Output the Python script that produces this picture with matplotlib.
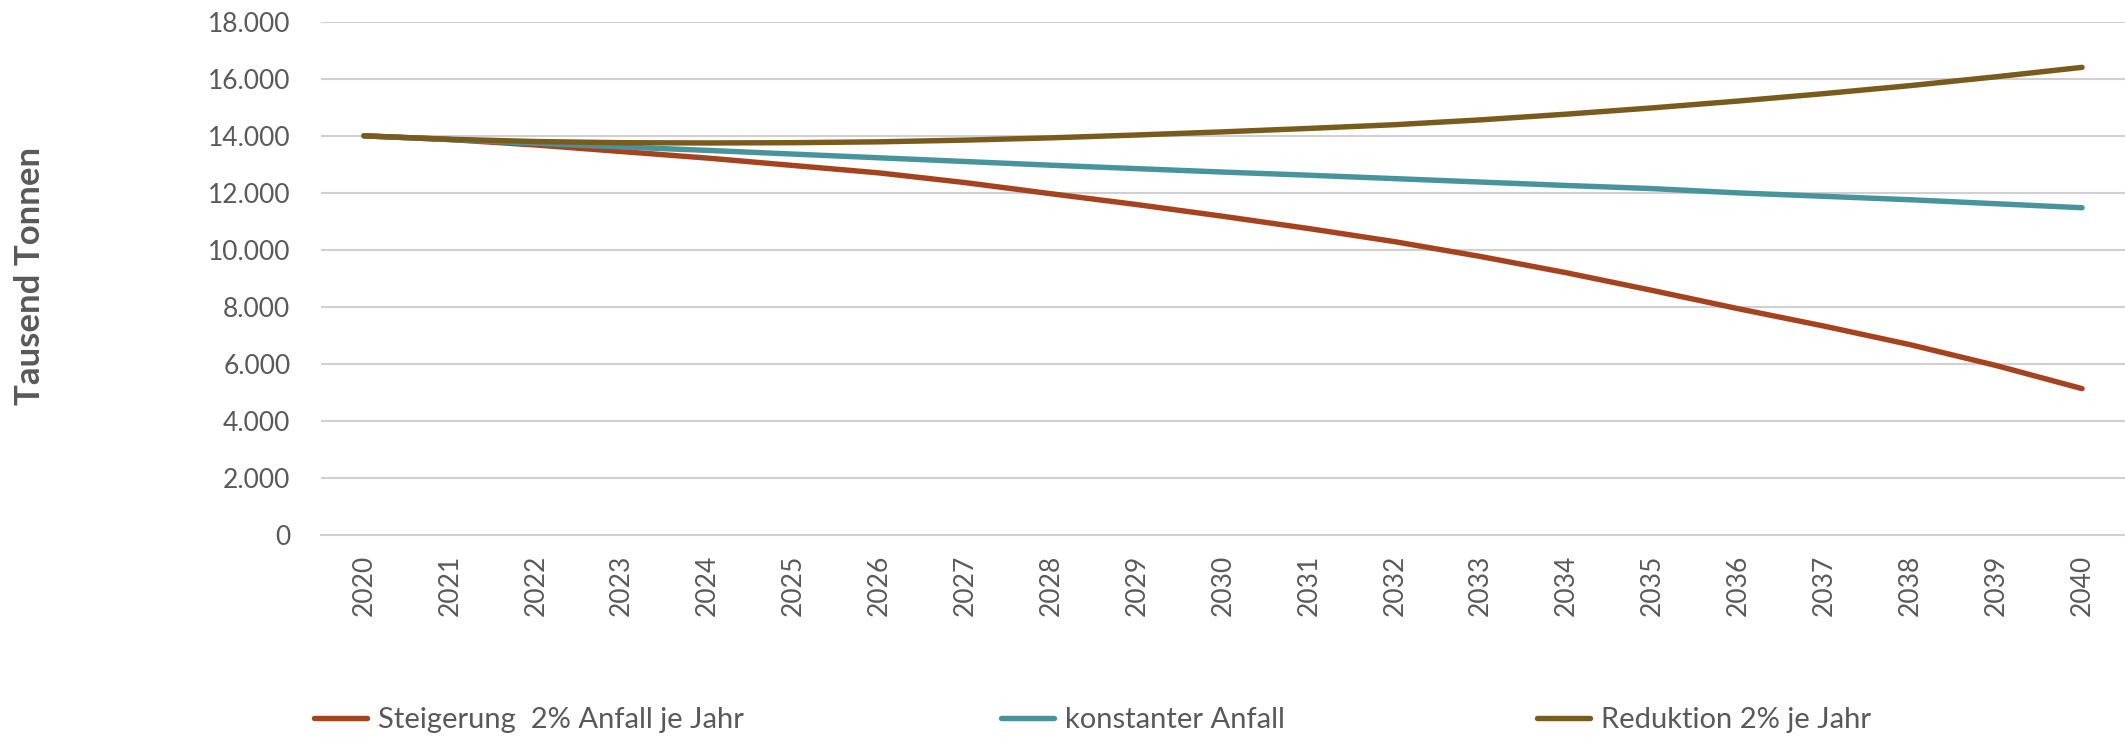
import matplotlib
matplotlib.use("Agg")
from matplotlib import pyplot as plt
from matplotlib.ticker import FuncFormatter
import numpy as np

years = list(range(2020, 2041))

# Tausend Tonnen
steigerung = [14000, 13870, 13680, 13450, 13220, 12960, 12700, 12360, 11970, 11590,
              11180, 10750, 10290, 9770, 9200, 8580, 7940, 7330, 6680, 5950, 5140]
konstant = [14000, 13870, 13740, 13610, 13490, 13360, 13230, 13100, 12970, 12850,
            12730, 12620, 12500, 12380, 12260, 12150, 12000, 11880, 11760, 11620, 11480]
reduktion = [14000, 13880, 13800, 13760, 13750, 13760, 13790, 13850, 13930, 14030,
             14140, 14260, 14390, 14560, 14760, 14980, 15220, 15480, 15760, 16070, 16400]

labels = ["Steigerung  2% Anfall je Jahr", "konstanter Anfall", "Reduktion 2% je Jahr"]
colors = ["#A6431F", "#48949C", "#7A5B1E"]

plt.rcParams['font.family'] = ['Lato', 'DejaVu Sans']
text_color = "#595959"

fig = plt.figure(figsize=(21.25, 7.4), dpi=100)
ax = fig.add_axes([321 / 2125, 1 - 535.3 / 740, 1 - 321 / 2125, (535.3 - 21.7) / 740])

x = np.arange(len(years))
lines = []
for series, color, label in zip([steigerung, konstant, reduktion], colors, labels):
    ln, = ax.plot(x, series, color=color, linewidth=3.9, solid_capstyle='round', label=label)
    lines.append(ln)

ax.set_xlim(-0.5, len(years) - 0.5)
ax.set_ylim(0, 18000)
ax.set_yticks(range(0, 18001, 2000))
ax.yaxis.set_major_formatter(FuncFormatter(lambda v, p: f"{int(v):,}".replace(",", ".")))
ax.set_xticks(x)
ax.set_xticklabels([str(y) for y in years], rotation=90)

ax.grid(axis='y', color="#D0D0D0", linewidth=1.5)
ax.set_axisbelow(True)
for side in ['top', 'right', 'left']:
    ax.spines[side].set_visible(False)
ax.spines['bottom'].set_color("#D0D0D0")
ax.spines['bottom'].set_linewidth(1.5)
ax.tick_params(axis='both', length=0, labelsize=19, colors=text_color)
ax.tick_params(axis='y', pad=22)
ax.tick_params(axis='x', pad=14)

fig.text(30 / 2125, 1 - 276 / 740, "Tausend Tonnen", rotation=90, ha='center', va='center',
         fontsize=25, fontweight='bold', color=text_color)

# one legend per entry so the spacing matches the original
legend_x = [288 / 2125, 975 / 2125, 1511 / 2125]
for ln, lx in zip(lines, legend_x):
    fig.legend(handles=[ln], loc='center left', bbox_to_anchor=(lx, 1 - 720 / 740),
               frameon=False, fontsize=21, handlelength=1.8, handletextpad=0.4,
               labelcolor=text_color)

fig.savefig("out.png", dpi=100, facecolor="white")
